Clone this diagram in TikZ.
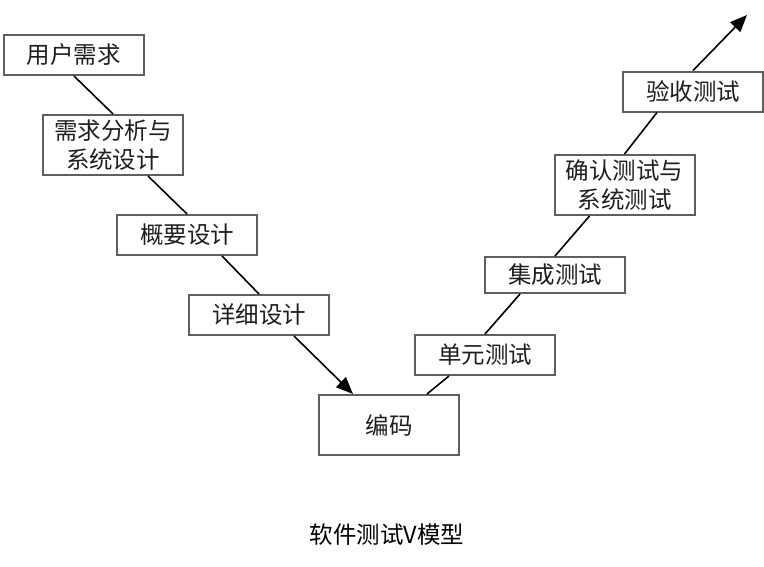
\documentclass[tikz,border=0pt]{standalone}
\usepackage{fontspec}
\setmainfont{Noto Sans CJK SC}
\usetikzlibrary{arrows.meta}
\definecolor{boxgray}{RGB}{95,95,95}
\definecolor{txt}{RGB}{30,30,30}
\begin{document}
\begin{tikzpicture}[x=1pt,y=-1pt,
  stagebox/.style={draw=boxgray,line width=2pt,fill=white,minimum width=140pt,minimum height=#1,inner sep=0pt,align=center,text=txt,font=\fontsize{23.5}{28.5}\selectfont},
  stagebox/.default=40pt,
  link/.style={draw=black,line width=1.6pt},
  linkarrow/.style={link,-{Triangle[length=17pt,width=14pt]}}]
\useasboundingbox (0,0) rectangle (764,566);
\node[stagebox] (u) at (74,55) {用户需求};
\node[stagebox=60pt] (r) at (113,145) {需求分析与\\系统设计};
\node[stagebox] (g) at (187,235) {概要设计};
\node[stagebox] (d) at (259,315) {详细设计};
\node[stagebox=60pt] (c) at (389,425) {编码};
\node[stagebox] (t1) at (485,355) {单元测试};
\node[stagebox=36pt] (t2) at (555,275) {集成测试};
\node[stagebox=60pt] (t3) at (624.5,185) {确认测试与\\系统测试};
\node[stagebox] (t4) at (693,91.5) {验收测试};
\coordinate (tip) at (747,15);
\node[text=black,font=\fontsize{23.5}{28}\selectfont] (cap) at (387,535) {软件测试V模型};
\draw[link] (u.south) -- (r.north);
\draw[link] ([xshift=35pt]r.south) -- (g.north);
\draw[link] ([xshift=35pt]g.south) -- (d.north);
\draw[linkarrow] ([xshift=35pt]d.south) -- ([xshift=-36pt]c.north);
\draw[link] ([xshift=38pt]c.north) -- ([xshift=-36pt]t1.south);
\draw[link] (t1.north) -- ([xshift=-35pt]t2.south);
\draw[link] (t2.north) -- ([xshift=-35pt]t3.south);
\draw[link] (t3.north) -- ([xshift=-36pt]t4.south);
\draw[linkarrow] (t4.north) -- (tip);
\end{tikzpicture}
\end{document}
